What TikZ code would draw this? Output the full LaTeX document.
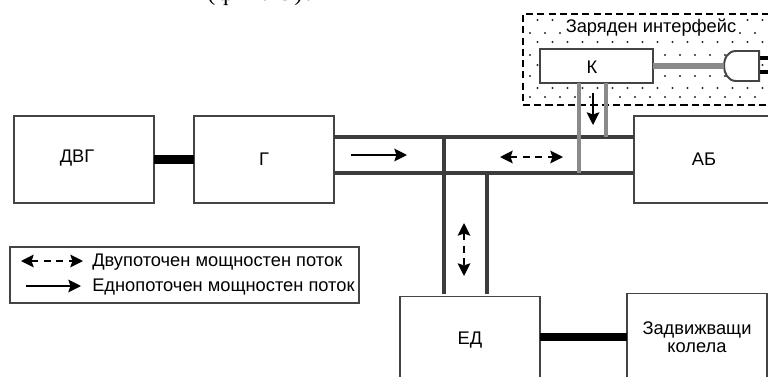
\documentclass[tikz,border=0pt]{standalone}
\usepackage{fontspec}
\setmainfont{Liberation Sans}
\newfontfamily\bodyserif[LetterSpace=12]{Liberation Serif}
\usetikzlibrary{arrows.meta}
\definecolor{boxgray}{HTML}{444444}
\definecolor{busgray}{HTML}{3C3C3C}
\definecolor{linkgray}{HTML}{8A8A8A}
\tikzset{
  unitbox/.style={draw=boxgray, line width=1.2pt, fill=white, minimum width=3.5cm, minimum height=2.18cm, inner sep=0pt, outer sep=0pt, font=\fontsize{13}{12.6}\selectfont, align=center},
  bus/.style={draw=busgray, line width=2.9pt},
  shaft/.style={draw=black, line width=6pt},
  link/.style={draw=linkgray, line width=2.9pt},
  oneway/.style={draw=black, line width=1.3pt, -{Stealth[length=9pt, width=9pt, inset=1.5pt]}},
  twoway/.style={draw=black, line width=1.3pt, dash pattern=on 5pt off 4pt, {Stealth[length=9pt, width=9pt, inset=1.5pt]}-{Stealth[length=9pt, width=9pt, inset=1.5pt]}},
  plain/.style={inner sep=0pt, font=\fontsize{13}{12.6}\selectfont}
}
\begin{document}
\begin{tikzpicture}[x=0.025cm, y=-0.025cm]
  \useasboundingbox (0,0) rectangle (768,376);
  \node[anchor=base west, inner sep=0pt, font=\bodyserif\fontsize{17}{20}\selectfont] (caption) at (207,0.5) {(фиг. 3).};
  % charging zone
  \node[draw=black, line width=1.2pt, dash pattern=on 5pt off 3pt, minimum width=6.3cm, minimum height=2.275cm, inner sep=0pt] (zone) at (649,59.5) {};
  \foreach \ypos [count=\i] in {20,33,42,55,65,76,88,97}{
    \pgfmathsetmacro{\xoff}{mod(\i,2)*7.5}
    \foreach \xpos in {530,545,...,770}
      \fill[black!85] (\xpos+\xoff,\ypos) circle[radius=0.8pt];
  }
  \node[fill=white, inner sep=1pt, font=\fontsize{13}{14}\selectfont] (zonetitle) at (651,28) {Заряден интерфейс};
  % units
  \node[unitbox] (dvg) at (84,159.5) {};
  \node[plain] (dvgtext) at (77,158) {ДВГ};
  \node[unitbox] (gen) at (264,159.5) {Г};
  \node[unitbox, minimum width=3.5cm] (bat) at (704,159.5) {АБ};
  \node[unitbox] (mot) at (470,340) {ЕД};
  \node[unitbox] (wheels) at (697,337) {Задвижващи\\колела};
  \node[unitbox, minimum width=2.825cm, minimum height=0.85cm] (chg) at (596.5,66) {};
  \node[plain] (chgtext) at (592,67) {К};
  % plug
  \node[minimum width=0.875cm, minimum height=0.75cm, inner sep=0pt, outer sep=0pt] (plug) at (741.5,66) {};
  \coordinate (pina) at (768,58);
  \coordinate (pinb) at (768,72);
  \draw[shaft, line width=2.9pt] (plug.east |- pina) -- (pina);
  \draw[shaft, line width=2.9pt] (plug.east |- pinb) -- (pinb);
  \draw[draw=boxgray, line width=1.4pt, fill=white] (plug.north east) -- (736,51) .. controls (728,51) and (724,58) .. (plug.west) .. controls (724,73) and (728,81) .. (736,81) -- (plug.south east) -- cycle;
  \draw[link, line width=4.2pt] (chg.east) -- (plug.west);
  % power buses
  \coordinate (genup) at (gen.east |- 0,137);
  \coordinate (gendn) at (gen.east |- 0,173);
  \coordinate (batup) at (bat.west |- 0,137);
  \coordinate (batdn) at (bat.west |- 0,173);
  \coordinate (tee) at (444,137);
  \coordinate (motl) at (444,294);
  \coordinate (motr) at (487,294);
  \coordinate (teer) at (487,173);
  \coordinate (chgl) at (579,83);
  \coordinate (chgr) at (606,83);
  \coordinate (joinl) at (579,173);
  \coordinate (joinr) at (606,137);
  \draw[bus] (genup) -- (batup);
  \draw[bus] (gendn) -- (batdn);
  \draw[bus] (tee) -- (motl);
  \draw[bus] (teer) -- (motr);
  \draw[link] (chgl) -- (joinl);
  \draw[link] (chgr) -- (joinr);
  \draw[shaft] (dvg) -- (gen);
  \draw[shaft] (mot.east |- wheels) -- (wheels);
  % flow arrows
  \coordinate (fa) at (351,155);
  \coordinate (fb) at (407,155);
  \coordinate (fc) at (500,157);
  \coordinate (fd) at (563,157);
  \coordinate (fe) at (464,223);
  \coordinate (ff) at (464,276);
  \coordinate (fg) at (593,93);
  \coordinate (fh) at (593,125);
  \draw[oneway] (fa) -- (fb);
  \draw[twoway] (fc) -- (fd);
  \draw[twoway] (fe) -- (ff);
  \draw[oneway] (fg) -- (fh);
  % legend
  \node[draw=boxgray, line width=1.4pt, minimum width=8.7cm, minimum height=1.4cm, inner sep=0pt] (legend) at (184.5,275) {};
  \coordinate (la) at (21,261);
  \coordinate (lb) at (83,261);
  \coordinate (lc) at (26,286);
  \coordinate (ld) at (81,286);
  \draw[twoway] (la) -- (lb);
  \draw[oneway] (lc) -- (ld);
  \node[plain, anchor=west] (legtwo) at (92,262) {Двупоточен мощностен поток};
  \node[plain, anchor=west] (legone) at (92,287) {Еднопоточен мощностен поток};
\end{tikzpicture}
\end{document}
